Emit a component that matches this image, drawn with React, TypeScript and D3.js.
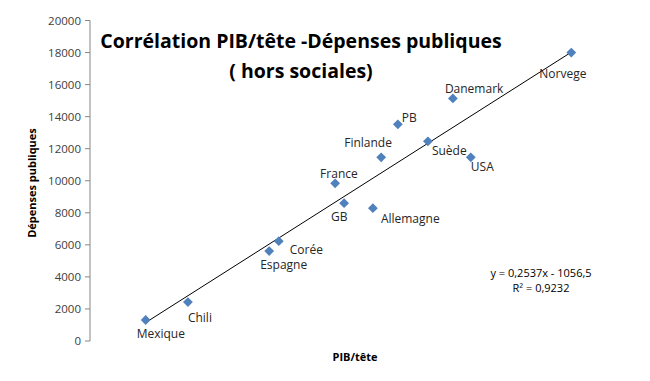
import React from "react";
import * as d3 from "d3";

const countries = ["Mexique", "Chili", "Espagne", "Corée", "France", "GB", "Allemagne", "Finlande", "PB", "Suède", "Danemark", "USA", "Norvege"];
const pibTete = [8700, 15300, 28000, 29500, 38300, 39700, 44200, 45500, 48100, 52800, 56700, 59500, 75200];
const depenses = [1310, 2430, 5610, 6230, 9840, 8600, 8290, 11460, 13520, 12460, 15140, 11460, 18000];
const yTicks = [0, 2000, 4000, 6000, 8000, 10000, 12000, 14000, 16000, 18000, 20000];
const slope = 0.2537;
const intercept = -1056.5;
// label offsets [dx, dy, anchor]
const labelPos: [number, number, string][] = [
  [-9, 18, "start"],
  [0, 20, "start"],
  [-9, 18, "start"],
  [11, 13, "start"],
  [-15, -5, "start"],
  [-13, 18, "start"],
  [8, 15, "start"],
  [-37, -10, "start"],
  [4, -2, "start"],
  [4, 14, "start"],
  [-8, -5, "start"],
  [0, 14, "start"],
  [-32, 25, "start"],
];

export default function App() {
  const W = 650, H = 381;
  const x = d3.scaleLinear().domain([0, 80000]).range([90, 602]);
  const y = d3.scaleLinear().domain([0, 20000]).range([341, 20.5]);
  const font = "'Open Sans', 'Noto Sans', sans-serif";
  const xmin = d3.min(pibTete)!, xmax = d3.max(pibTete)!;
  const line = d3.line<number>().x((d) => x(d)).y((d) => y(slope * d + intercept));
  const diamond = d3.symbol().type(d3.symbolSquare).size(48)();
  return (
    <svg width={W} height={H} style={{ position: "absolute", left: 0, top: 0, background: "#fff" }}>
      <rect width={W} height={H} fill="#fff" />
      <line x1={90} x2={90} y1={y(20000)} y2={y(0)} stroke="#868686" strokeWidth={1} />
      {yTicks.map((t) => (
        <g key={t}>
          <line x1={85} x2={90} y1={y(t)} y2={y(t)} stroke="#868686" />
          <text x={81} y={y(t)} dy="0.35em" textAnchor="end" fontFamily={font} fontSize={11.5} fill="#404040">{t}</text>
        </g>
      ))}
      <path d={line([xmin, xmax]) || ""} stroke="#000" strokeWidth={1} fill="none" />
      {countries.map((c, i) => (
        <g key={c}>
          <path d={diamond} transform={`translate(${x(pibTete[i])},${y(depenses[i])}) rotate(45)`} fill="#4F81BD" />
          <text x={x(pibTete[i]) + labelPos[i][0]} y={y(depenses[i]) + labelPos[i][1]} textAnchor={labelPos[i][2] as any} fontFamily={font} fontSize={12} fill="#262626">{c}</text>
        </g>
      ))}
      <text x={301} y={48} textAnchor="middle" fontFamily={font} fontWeight="bold" fontSize={19.5} fill="#000">Corrélation PIB/tête -Dépenses publiques</text>
      <text x={301} y={78} textAnchor="middle" fontFamily={font} fontWeight="bold" fontSize={19.5} fill="#000">( hors sociales)</text>
      <text transform="translate(36,183) rotate(-90)" textAnchor="middle" fontFamily={font} fontWeight="bold" fontSize={11} fill="#000">Dépenses publiques</text>
      <text x={355} y={361} textAnchor="middle" fontFamily={font} fontWeight="bold" fontSize={11} fill="#000">PIB/tête</text>
      <text x={541} y={277} textAnchor="middle" fontFamily={font} fontSize={11} fill="#000">y = 0,2537x - 1056,5</text>
      <text x={541} y={292} textAnchor="middle" fontFamily={font} fontSize={11} fill="#000">R² = 0,9232</text>
    </svg>
  );
}
